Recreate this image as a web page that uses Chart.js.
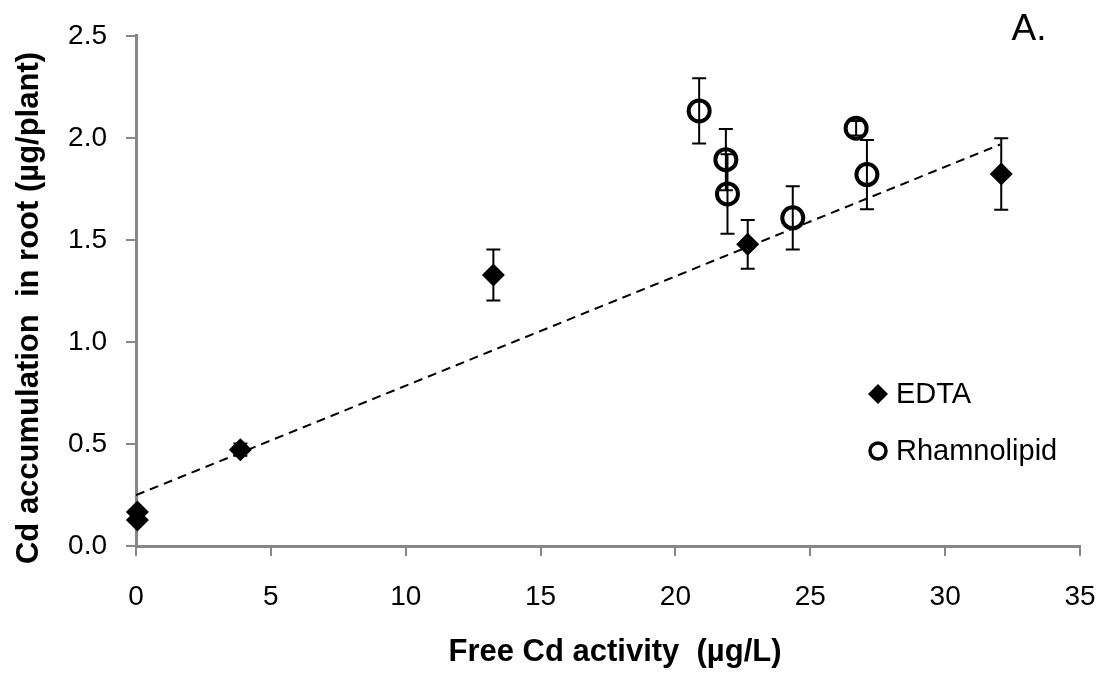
<!DOCTYPE html>
<html>
<head>
<meta charset="utf-8">
<script src="https://cdn.jsdelivr.net/npm/chart.js@4"></script>
<style>
  html, body { margin: 0; padding: 0; background: #fff; }
  #wrap { width: 1105px; height: 677px; }
</style>
</head>
<body>
<div id="wrap"><canvas id="cdChart" width="1105" height="677"></canvas></div>
<script>
// values
const edtaX = [0.05, 0.05, 3.87, 13.25, 22.68, 32.08];
const edtaY = [0.167, 0.127, 0.472, 1.328, 1.478, 1.823];
const edtaErr = [0.01, 0.01, 0.03, 0.125, 0.12, 0.175];

const rhamX = [20.88, 21.87, 21.93, 24.35, 26.7, 27.1];
const rhamY = [2.132, 1.893, 1.725, 1.608, 2.047, 1.82];
const rhamErr = [0.16, 0.15, 0.195, 0.155, 0.035, 0.17];

const trendX = [0, 32.05];
const trendY = [0.249, 1.968];

const xTicks = [0, 5, 10, 15, 20, 25, 30, 35];
const yTicks = [0.0, 0.5, 1.0, 1.5, 2.0, 2.5];

const FONT = "Arial, 'Liberation Sans', sans-serif";
const AXIS_GREY = "#878787";

function toPoints(xs, ys) {
  return xs.map((x, i) => ({ x, y: ys[i] }));
}

// vertical error bars with caps, drawn under the markers
const errorBars = {
  id: "errorBars",
  beforeDatasetsDraw(chart) {
    const { ctx, scales } = chart;
    const sets = [
      [edtaX, edtaY, edtaErr],
      [rhamX, rhamY, rhamErr],
    ];
    ctx.save();
    ctx.strokeStyle = "#000";
    ctx.lineWidth = 2;
    for (const [xs, ys, errs] of sets) {
      xs.forEach((xv, i) => {
        const px = scales.x.getPixelForValue(xv);
        const top = scales.y.getPixelForValue(ys[i] + errs[i]);
        const bot = scales.y.getPixelForValue(ys[i] - errs[i]);
        ctx.beginPath();
        ctx.moveTo(px, top);
        ctx.lineTo(px, bot);
        ctx.moveTo(px - 7, top);
        ctx.lineTo(px + 7, top);
        ctx.moveTo(px - 7, bot);
        ctx.lineTo(px + 7, bot);
        ctx.stroke();
      });
    }
    ctx.restore();
  },
};

// axis titles, panel letter and legend
const decorations = {
  id: "decorations",
  afterDraw(chart) {
    const { ctx } = chart;
    ctx.save();
    ctx.fillStyle = "#000";

    ctx.font = "bold 31px " + FONT;
    ctx.textAlign = "center";
    ctx.textBaseline = "middle";
    ctx.fillText("Free Cd activity  (\u00b5g/L)", 615, 652);

    ctx.save();
    ctx.translate(29, 308);
    ctx.rotate(-Math.PI / 2);
    ctx.fillText("Cd accumulation  in root (\u00b5g/plant)", 0, 0);
    ctx.restore();

    ctx.font = "37px " + FONT;
    ctx.fillText("A.", 1029, 30);

    // legend
    ctx.font = "29px " + FONT;
    ctx.textAlign = "left";
    ctx.beginPath();
    ctx.moveTo(878, 384);
    ctx.lineTo(888, 394);
    ctx.lineTo(878, 404);
    ctx.lineTo(868, 394);
    ctx.closePath();
    ctx.fill();
    ctx.fillText("EDTA", 896, 395);

    ctx.beginPath();
    ctx.lineWidth = 3.5;
    ctx.strokeStyle = "#000";
    ctx.arc(878, 451, 8, 0, Math.PI * 2);
    ctx.stroke();
    ctx.fillText("Rhamnolipid", 896, 452);
    ctx.restore();
  },
};

const chart = new Chart(document.getElementById("cdChart"), {
  type: "scatter",
  data: {
    datasets: [
      {
        label: "trend",
        type: "line",
        data: toPoints(trendX, trendY),
        borderColor: "#000",
        borderWidth: 2,
        borderDash: [9, 6],
        pointRadius: 0,
        fill: false,
      },
      {
        label: "EDTA",
        data: toPoints(edtaX, edtaY),
        pointStyle: "rectRot",
        pointRadius: 11.5,
        pointHoverRadius: 11.5,
        backgroundColor: "#000",
        borderColor: "#000",
        borderWidth: 0,
      },
      {
        label: "Rhamnolipid",
        data: toPoints(rhamX, rhamY),
        pointStyle: "circle",
        pointRadius: 10.5,
        pointHoverRadius: 10.5,
        backgroundColor: "rgba(0,0,0,0)",
        borderColor: "#000",
        borderWidth: 4,
      },
    ],
  },
  options: {
    responsive: false,
    animation: false,
    clip: false,
    events: [],
    layout: { padding: { left: 0, right: 25, top: 34, bottom: 0 } },
    plugins: {
      legend: { display: false },
      tooltip: { enabled: false },
    },
    scales: {
      x: {
        type: "linear",
        min: 0,
        max: 35,
        afterFit(scale) {
          scale.height = 131;
          scale.paddingLeft = 0;
          scale.paddingRight = 0;
        },
        afterBuildTicks(scale) { scale.ticks = xTicks.map((v) => ({ value: v })); },
        ticks: {
          color: "#000",
          padding: 24,
          font: { family: FONT, size: 28 },
        },
        grid: {
          drawOnChartArea: false,
          color: AXIS_GREY,
          lineWidth: 2,
          tickLength: 10,
        },
        border: { color: AXIS_GREY, width: 3 },
      },
      y: {
        type: "linear",
        min: 0,
        max: 2.5,
        afterFit(scale) { scale.width = 136; },
        afterBuildTicks(scale) { scale.ticks = yTicks.map((v) => ({ value: v })); },
        ticks: {
          color: "#000",
          padding: 19,
          font: { family: FONT, size: 28 },
          callback: (v) => Number(v).toFixed(1),
        },
        grid: {
          drawOnChartArea: false,
          color: AXIS_GREY,
          lineWidth: 2,
          tickLength: 10,
        },
        border: { color: AXIS_GREY, width: 3 },
      },
    },
  },
  plugins: [errorBars, decorations],
});
</script>
</body>
</html>
